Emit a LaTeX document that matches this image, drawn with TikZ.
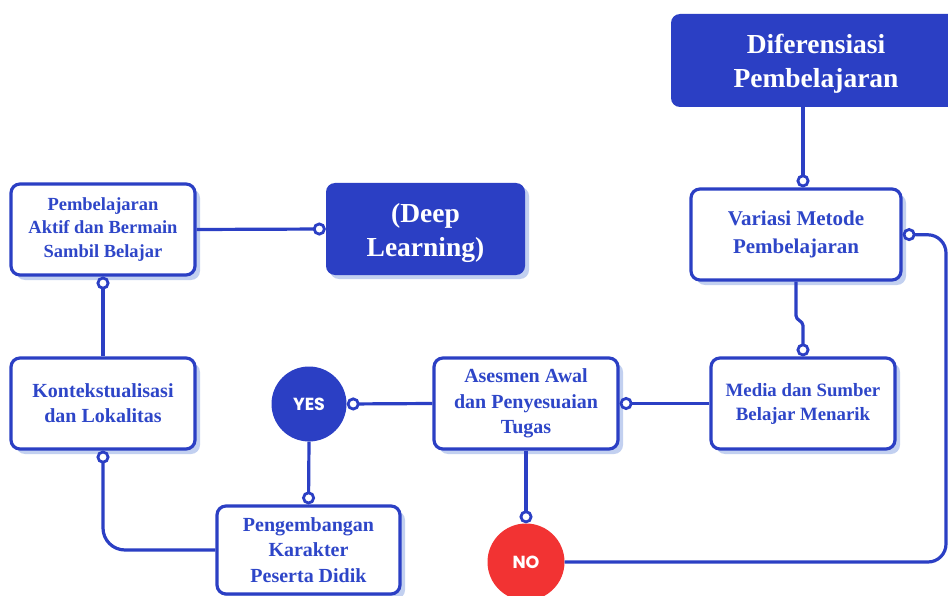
\documentclass[tikz,border=0pt]{standalone}
\usepackage{fontspec}
\setmainfont{Liberation Serif}
\newfontfamily\yesfont{Poppins}
\usetikzlibrary{arrows.meta,shadows,calc}
\definecolor{mblue}{HTML}{2B3FC4}
\definecolor{tblue}{HTML}{2E46C8}
\definecolor{shadowc}{HTML}{C2D0F0}
\definecolor{nored}{HTML}{F23333}
\tikzset{
  box/.style={draw=mblue, line width=3.2pt, rounded corners=9pt, fill=white,
    text=tblue, align=center, inner sep=2pt,
    general shadow={fill=shadowc, shadow xshift=5pt, shadow yshift=-5pt}},
  titlebox/.style={fill=mblue, rounded corners=9pt, text=white, align=center,
    font=\bfseries\fontsize{27.5}{34}\selectfont},
  decision/.style={circle, text=white, font=\yesfont\bfseries\fontsize{17.5}{19}\selectfont},
  link/.style={draw=mblue, line width=3.2pt},
  dot/.style={link, -{Circle[open, length=13pt, width=13pt, fill=white, line width=2.8pt]}},
}
\begin{document}
\begin{tikzpicture}[x=1pt, y=-1pt]
\useasboundingbox (0,0) rectangle (948,596);
\fill[white] (0,0) rectangle (948,596);
% nodes
\node[titlebox, minimum width=290pt, minimum height=93pt] (dp) at (816,60.5) {};
\node[text=white, align=center, font=\bfseries\fontsize{27.5}{34}\selectfont] (dptext) at (816,63.5) {Diferensiasi\\Pembelajaran};
\node[titlebox, minimum width=199pt, minimum height=92pt,
  general shadow={fill=shadowc, shadow xshift=4pt, shadow yshift=-4pt}] (dl) at (425.5,229) {};
\node[text=white, align=center, font=\bfseries\fontsize{27.5}{34}\selectfont] (dltext) at (425.5,232.5) {(Deep\\Learning)};
\node[box, minimum width=184pt, minimum height=91pt, font=\bfseries\fontsize{18.5}{23.5}\selectfont] (pa) at (103,229.5) {Pembelajaran\\Aktif dan Bermain\\Sambil Belajar};
\node[box, minimum width=184pt, minimum height=91pt, font=\bfseries\fontsize{20}{25}\selectfont] (kl) at (103,403.5) {Kontekstualisasi\\dan Lokalitas};
\node[box, minimum width=183pt, minimum height=88pt, font=\bfseries\fontsize{20}{25.5}\selectfont] (pk) at (308.5,550) {Pengembangan\\Karakter\\Peserta Didik};
\node[box, minimum width=184pt, minimum height=91pt, font=\bfseries\fontsize{20}{25.5}\selectfont] (aa) at (526,403.5) {Asesmen Awal\\dan Penyesuaian\\Tugas};
\node[box, minimum width=184pt, minimum height=91pt, font=\bfseries\fontsize{18.8}{24}\selectfont] (ms) at (803,403.5) {Media dan Sumber\\Belajar Menarik};
\node[box, minimum width=210pt, minimum height=91pt, font=\bfseries\fontsize{21}{28}\selectfont] (vm) at (796,234.5) {Variasi Metode\\Pembelajaran};
\node[decision, fill=mblue, minimum size=75pt] (yes) at (309,404) {YES};
\node[decision, fill=nored, minimum size=77pt] (no) at (526,562) {NO};
\coordinate (vmtop) at ([xshift=7pt]vm.north);
% connectors
\draw[dot] (pa.east) -- (dl.west);
\draw[dot] (kl.north) -- (pa.south);
\draw[dot, rounded corners=22pt] (pk.west) -| (kl.south);
\draw[dot] (yes.south) -- (pk.north);
\draw[dot] (aa.west) -- (yes.east);
\draw[dot] (ms.west) -- (aa.east);
\draw[dot] (vm.south) -- ++(0,34) to[out=-90,in=90] ++(7,10) -- (ms.north);
\draw[dot] (vmtop |- dp.south) -- (vmtop);
\draw[dot] (aa.south) -- (no.north);
\draw[dot, rounded corners=18pt] (no.east) -- (946,562) -- (946,235) -- (vm.east);
\end{tikzpicture}
\end{document}
